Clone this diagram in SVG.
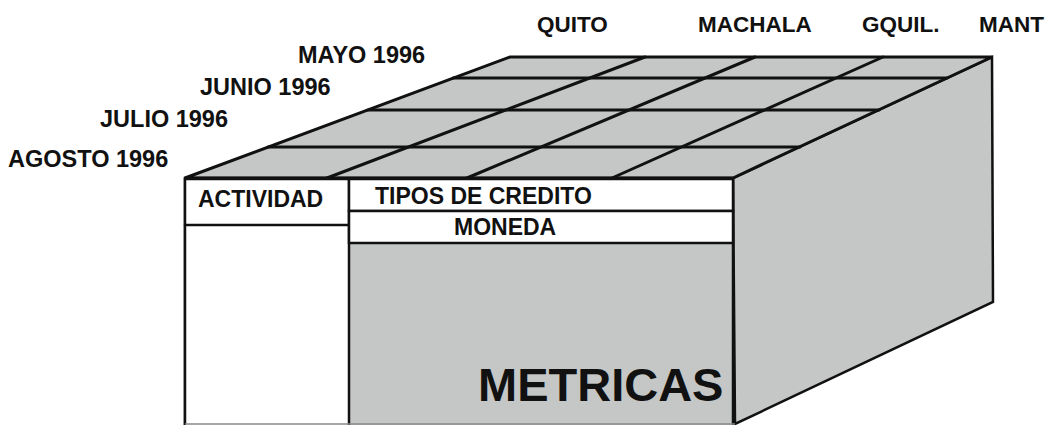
<svg xmlns="http://www.w3.org/2000/svg" width="1050" height="425" viewBox="0 0 1050 425">
<style>
.face{fill:#c5c7c7;stroke:#111;stroke-width:3;stroke-linejoin:miter}
.white{fill:#fff;stroke:#111;stroke-width:2.5}
.ln{stroke:#111;stroke-width:3;fill:none;stroke-linecap:round}
.lbl{font-family:"Liberation Sans",Arial,sans-serif;font-weight:bold;font-size:22.5px;fill:#111}
.date{font-family:"Liberation Sans",Arial,sans-serif;font-weight:bold;font-size:23.5px;fill:#111}
.hdr{font-family:"Liberation Sans",Arial,sans-serif;font-weight:bold;font-size:23px;fill:#111}
.big{font-family:"Liberation Sans",Arial,sans-serif;font-weight:bold;font-size:47px;fill:#111}
</style>
<rect width="1050" height="425" fill="#fff"/>
<g id="right-face">
<polygon class="face" points="733,178 992,57 993,302 735,424" style="stroke-width:2.5"/>
</g>
<g id="top-face">
<polygon class="face" points="185,178 510,57 992,57 733,178"/>
<g class="grid">
<line class="ln" x1="453" y1="78" x2="947" y2="78"/>
<line class="ln" x1="368" y1="110" x2="879" y2="110"/>
<line class="ln" x1="268" y1="147" x2="800" y2="147"/>
<line class="ln" x1="327" y1="178" x2="645" y2="57"/>
<line class="ln" x1="467" y1="178" x2="755" y2="57"/>
<line class="ln" x1="612" y1="178" x2="883" y2="57"/>
</g>
</g>
<g id="front-face">
<rect class="face" x="185" y="178" width="548" height="250" style="stroke-width:2.5"/>
<rect class="white" x="185" y="179" width="164" height="249"/>
<line class="ln" x1="185" y1="225" x2="349" y2="225" style="stroke-width:2.5"/>
<rect class="white" x="349" y="179" width="384" height="32"/>
<rect class="white" x="349" y="211" width="384" height="32"/>
<line x1="185" y1="424" x2="735" y2="424" stroke="#888" stroke-width="1.5"/>
</g>
<g id="dim-tiempo">
<text class="date" x="298" y="63">MAYO 1996</text>
<text class="date" x="200" y="95">JUNIO 1996</text>
<text class="date" x="100" y="127">JULIO 1996</text>
<text class="date" x="8" y="167">AGOSTO 1996</text>
</g>
<g id="dim-ciudad">
<text class="lbl" x="537" y="32">QUITO</text>
<text class="lbl" x="698" y="32">MACHALA</text>
<text class="lbl" x="862" y="32">GQUIL.</text>
<text class="lbl" x="979" y="32">MANT</text>
</g>
<g id="actividad"><text class="hdr" x="198" y="207">ACTIVIDAD</text></g>
<g id="tipos-credito"><text class="hdr" x="375" y="204">TIPOS DE CREDITO</text></g>
<g id="moneda"><text class="hdr" x="454" y="235">MONEDA</text></g>
<g id="metricas"><text class="big" x="478" y="401">METRICAS</text></g>
</svg>
